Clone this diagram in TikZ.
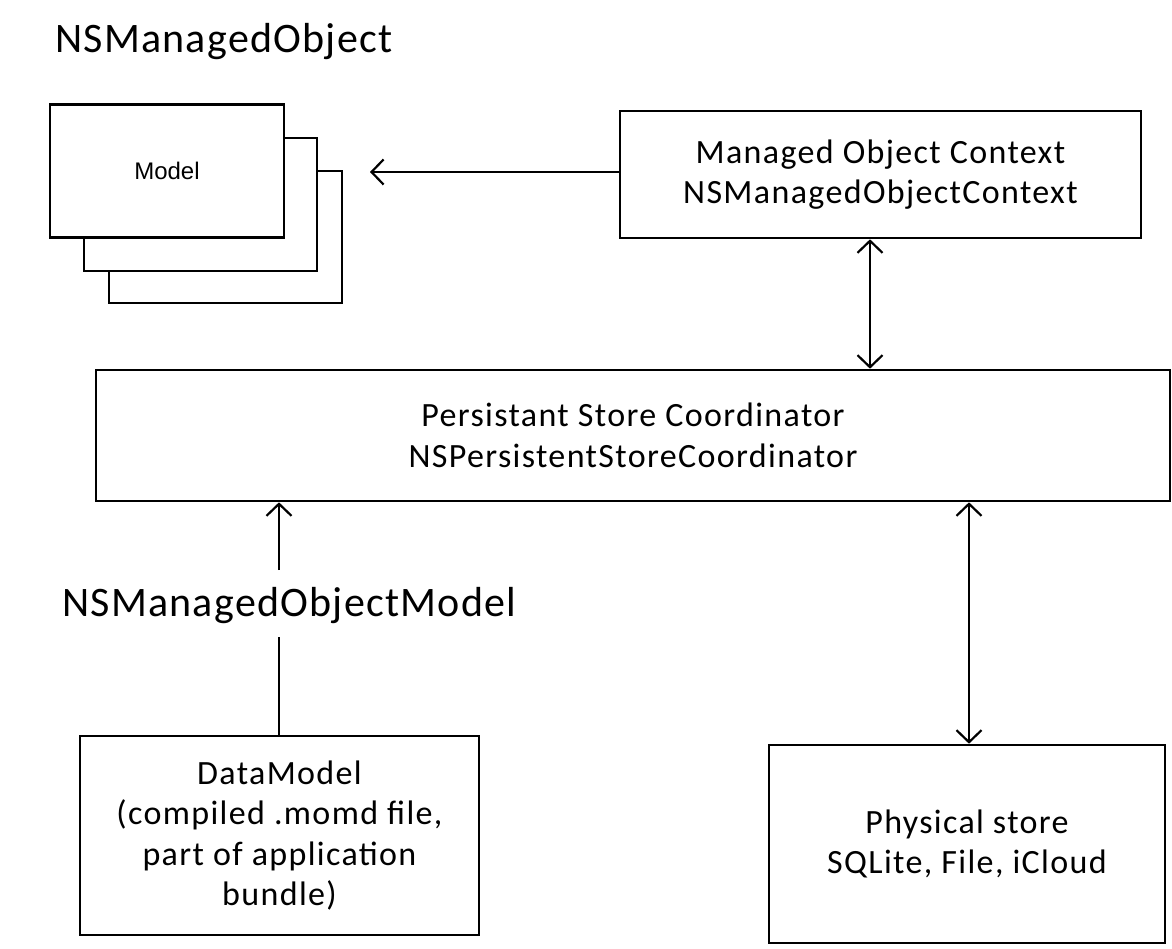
\documentclass[tikz,border=0pt]{standalone}
\usepackage{fontspec}
\setmainfont{Carlito}
\newfontfamily\arialf{Liberation Sans}
\newfontfamily\boxf[LetterSpace=4]{Carlito}
\newfontfamily\lblf[LetterSpace=3]{Carlito}
\usetikzlibrary{arrows.meta}
\begin{document}
\begin{tikzpicture}[x=1pt,y=-1pt,
  box/.style={draw,line width=2.6pt,fill=white,inner sep=0pt,align=center},
  tip/.style={Straight Barb[length=12pt,width=25pt,line width=2.2pt]},
  conn/.style={line width=2.2pt,arrows={Straight Barb[length=12pt,width=25pt,line width=2.2pt]-Straight Barb[length=12pt,width=25pt,line width=2.2pt]}},
  lbl/.style={font=\lblf\fontsize{42}{50}\selectfont,inner sep=0pt},
  btxt/.style={font=\boxf\fontsize{34}{40.5}\selectfont}]
\useasboundingbox (0,0) rectangle (1172,948);
% stacked model boxes
\draw[line width=2.6pt,fill=white] (109,171) rectangle (342,303);
\draw[line width=2.6pt,fill=white] (84,138) rectangle (317,271);
\node[box,minimum width=234pt,minimum height=133pt,font=\arialf\fontsize{24}{28}\selectfont] (model) at (167,171) {Model};
\coordinate (mtip) at (370,172);
\node[lbl,anchor=west] (title) at (55,42) {NSManagedObject};
\node[box,btxt,minimum width=521pt,minimum height=127pt] (moc) at (880.5,174.5) {Managed Object Context\\NSManagedObjectContext};
\node[box,btxt,minimum width=1074pt,minimum height=131pt] (psc) at (633,435.5) {Persistant Store Coordinator\\NSPersistentStoreCoordinator};
\node[box,btxt,minimum width=399pt,minimum height=199pt] (dm) at (279.5,835.5) {DataModel\\(compiled .momd file,\\part of application\\bundle)};
\node[box,btxt,minimum width=396pt,minimum height=198pt] (ps) at (967,844) {Physical store\\SQLite, File, iCloud};
\node[lbl,anchor=west] (nsmom) at (62,606) {NSManagedObjectModel};
% connectors
\draw[line width=2.2pt,-{Straight Barb[length=12pt,width=25pt,line width=2.2pt]}] (moc.west |- mtip) -- (mtip);
\draw[conn] (moc.south -| 870,0) -- (psc.north -| 870,0);
\draw[conn] (psc.south -| 969,0) -- (ps.north -| 969,0);
\coordinate (gapt) at (279,570);
\coordinate (gapb) at (279,637);
\draw[line width=2.2pt,-{Straight Barb[length=12pt,width=25pt,line width=2.2pt]}] (gapt) -- (psc.south -| gapt);
\draw[line width=2.2pt] (dm.north -| gapb) -- (gapb);
\end{tikzpicture}
\end{document}
